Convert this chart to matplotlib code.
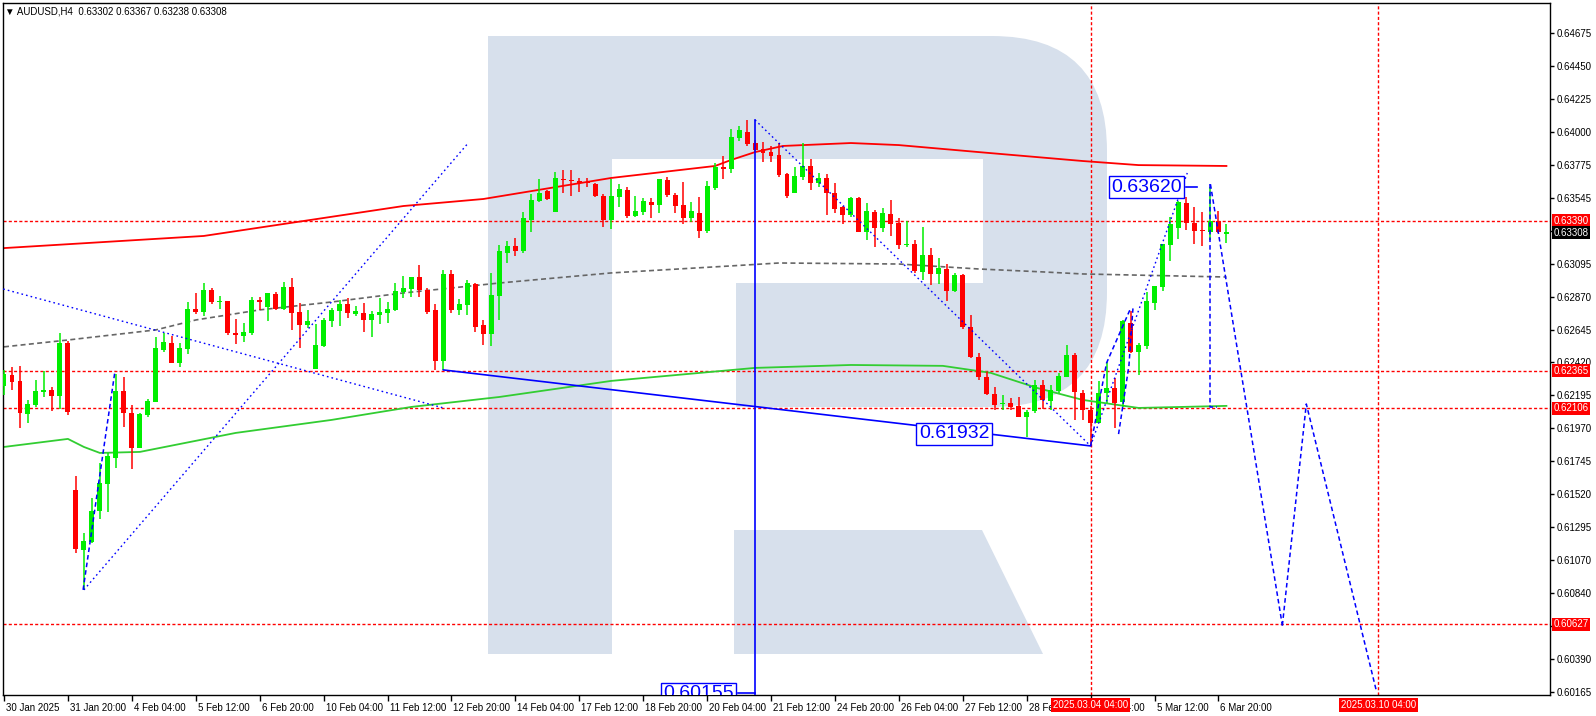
import matplotlib
matplotlib.use("Agg")
import matplotlib.pyplot as plt
import matplotlib.transforms as mtransforms
from matplotlib.patches import Rectangle, FancyBboxPatch, Polygon
import numpy as np

# ---------------- data ----------------
title_text = "\u25BC AUDUSD,H4  0.63302 0.63367 0.63238 0.63308"

opens = [0.62260, 0.62335, 0.62294, 0.62068, 0.62130, 0.62218, 0.62232, 0.62191, 0.62553, 0.61548,
         0.61138, 0.61192, 0.61404, 0.61589, 0.61767, 0.62225, 0.62074, 0.61836, 0.62061, 0.62150,
         0.62506, 0.62553, 0.62417, 0.62513, 0.62787, 0.62766, 0.62916, 0.62834, 0.62841, 0.62622,
         0.62602, 0.62622, 0.62848, 0.62800, 0.62889, 0.62787, 0.62937, 0.62766, 0.62677, 0.62376,
         0.62533, 0.62704, 0.62773, 0.62821, 0.62752, 0.62759, 0.62711, 0.62745, 0.62759, 0.62780,
         0.62903, 0.62923, 0.63005, 0.62916, 0.62780, 0.62431, 0.63026, 0.62780, 0.62814, 0.62957,
         0.62677, 0.62615, 0.62875, 0.63169, 0.63217, 0.63183, 0.63395, 0.63526, 0.63594, 0.63450,
         0.63676, 0.63669, 0.63662, 0.63656, 0.63642, 0.63560, 0.63395, 0.63553, 0.63601, 0.63423,
         0.63450, 0.63519, 0.63498, 0.63669, 0.63567, 0.63498, 0.63409, 0.63443, 0.63320, 0.63615,
         0.63758, 0.63744, 0.63956, 0.63997, 0.63922, 0.63881, 0.63860, 0.63840, 0.63710, 0.63580,
         0.63689, 0.63765, 0.63649, 0.63683, 0.63580, 0.63484, 0.63430, 0.63546, 0.63313, 0.63450,
         0.63341, 0.63436, 0.63375, 0.63224, 0.63231, 0.63040, 0.63156, 0.63026, 0.63060, 0.62909,
         0.63019, 0.62663, 0.62458, 0.62321, 0.62205, 0.62137, 0.62143, 0.62123, 0.62047, 0.62088,
         0.62267, 0.62157, 0.62225, 0.62321, 0.62472, 0.62212, 0.62095, 0.62006, 0.62212, 0.62246,
         0.62150, 0.62690, 0.62492, 0.62533, 0.62827, 0.62937, 0.63224, 0.63341, 0.63512, 0.63375,
         0.63327, 0.63313, 0.63388, 0.63302]
highs = [0.62369, 0.62390, 0.62397, 0.62164, 0.62301, 0.62362, 0.62253, 0.62622, 0.62567, 0.61644,
         0.61254, 0.61493, 0.61733, 0.61801, 0.62342, 0.62321, 0.62130, 0.62074, 0.62170, 0.62595,
         0.62622, 0.62601, 0.62553, 0.62835, 0.62896, 0.62964, 0.62930, 0.62875, 0.62841, 0.62718,
         0.62690, 0.62869, 0.62869, 0.62896, 0.62903, 0.62971, 0.62999, 0.62827, 0.62780, 0.62684,
         0.62725, 0.62793, 0.62848, 0.62862, 0.62807, 0.62827, 0.62773, 0.62862, 0.62834, 0.62964,
         0.63012, 0.63005, 0.63087, 0.62930, 0.62821, 0.63053, 0.63053, 0.62855, 0.62985, 0.62964,
         0.62711, 0.63033, 0.63224, 0.63251, 0.63272, 0.63450, 0.63573, 0.63676, 0.63601, 0.63724,
         0.63737, 0.63737, 0.63683, 0.63683, 0.63649, 0.63573, 0.63676, 0.63642, 0.63621, 0.63560,
         0.63546, 0.63546, 0.63676, 0.63690, 0.63580, 0.63656, 0.63519, 0.63553, 0.63662, 0.63785,
         0.63833, 0.64018, 0.64038, 0.64080, 0.63943, 0.63929, 0.63902, 0.63922, 0.63717, 0.63758,
         0.63922, 0.63812, 0.63717, 0.63710, 0.63649, 0.63491, 0.63553, 0.63553, 0.63512, 0.63464,
         0.63477, 0.63532, 0.63409, 0.63388, 0.63258, 0.63347, 0.63204, 0.63136, 0.63094, 0.63033,
         0.63026, 0.62745, 0.62485, 0.62355, 0.62253, 0.62198, 0.62178, 0.62184, 0.62095, 0.62301,
         0.62301, 0.62267, 0.62348, 0.62540, 0.62485, 0.62232, 0.62123, 0.62294, 0.62424, 0.62314,
         0.62711, 0.62773, 0.62553, 0.62903, 0.62944, 0.63231, 0.63416, 0.63526, 0.63553, 0.63484,
         0.63450, 0.63620, 0.63457, 0.63367]
lows = [0.62198, 0.62232, 0.61972, 0.62006, 0.62116, 0.62184, 0.62088, 0.62102, 0.62061, 0.61117,
        0.60864, 0.61185, 0.61349, 0.61397, 0.61699, 0.61979, 0.61692, 0.61836, 0.62047, 0.62150,
        0.62492, 0.62417, 0.62390, 0.62479, 0.62752, 0.62739, 0.62821, 0.62787, 0.62609, 0.62547,
        0.62560, 0.62609, 0.62780, 0.62704, 0.62780, 0.62780, 0.62643, 0.62520, 0.62657, 0.62376,
        0.62527, 0.62663, 0.62670, 0.62725, 0.62739, 0.62629, 0.62595, 0.62684, 0.62690, 0.62773,
        0.62862, 0.62869, 0.62869, 0.62752, 0.62369, 0.62369, 0.62759, 0.62745, 0.62745, 0.62629,
        0.62540, 0.62533, 0.62711, 0.63101, 0.63149, 0.63169, 0.63313, 0.63519, 0.63532, 0.63450,
        0.63580, 0.63560, 0.63587, 0.63621, 0.63553, 0.63347, 0.63334, 0.63484, 0.63409, 0.63416,
        0.63430, 0.63409, 0.63443, 0.63553, 0.63443, 0.63368, 0.63382, 0.63272, 0.63306, 0.63601,
        0.63676, 0.63717, 0.63936, 0.63902, 0.63861, 0.63792, 0.63792, 0.63689, 0.63546, 0.63580,
        0.63669, 0.63601, 0.63621, 0.63430, 0.63443, 0.63368, 0.63416, 0.63313, 0.63258, 0.63210,
        0.63313, 0.63286, 0.63197, 0.63210, 0.63033, 0.62985, 0.62951, 0.62957, 0.62841, 0.62903,
        0.62650, 0.62451, 0.62301, 0.62198, 0.62095, 0.62095, 0.62095, 0.62047, 0.61911, 0.62074,
        0.62102, 0.62095, 0.62212, 0.62321, 0.62027, 0.62027, 0.61849, 0.62006, 0.62143, 0.61972,
        0.62116, 0.62485, 0.62335, 0.62513, 0.62780, 0.62910, 0.63115, 0.63265, 0.63327, 0.63231,
        0.63217, 0.63258, 0.63306, 0.63238]
closes = [0.62342, 0.62287, 0.62074, 0.62137, 0.62225, 0.62232, 0.62191, 0.62553, 0.62081, 0.61144,
          0.61199, 0.61404, 0.61596, 0.61781, 0.62225, 0.62074, 0.61836, 0.62068, 0.62157, 0.62520,
          0.62560, 0.62417, 0.62520, 0.62787, 0.62766, 0.62916, 0.62834, 0.62841, 0.62622, 0.62609,
          0.62629, 0.62848, 0.62834, 0.62896, 0.62787, 0.62937, 0.62759, 0.62677, 0.62704, 0.62540,
          0.62711, 0.62780, 0.62821, 0.62759, 0.62773, 0.62711, 0.62752, 0.62766, 0.62787, 0.62909,
          0.62930, 0.63005, 0.62916, 0.62766, 0.62431, 0.63026, 0.62780, 0.62821, 0.62964, 0.62663,
          0.62615, 0.62882, 0.63183, 0.63217, 0.63183, 0.63409, 0.63532, 0.63580, 0.63539, 0.63683,
          0.63669, 0.63662, 0.63649, 0.63649, 0.63560, 0.63395, 0.63560, 0.63608, 0.63423, 0.63457,
          0.63525, 0.63498, 0.63676, 0.63567, 0.63491, 0.63409, 0.63457, 0.63320, 0.63628, 0.63758,
          0.63744, 0.63963, 0.64011, 0.63915, 0.63874, 0.63853, 0.63833, 0.63703, 0.63560, 0.63696,
          0.63765, 0.63649, 0.63683, 0.63580, 0.63471, 0.63430, 0.63546, 0.63313, 0.63457, 0.63341,
          0.63443, 0.63368, 0.63224, 0.63231, 0.63046, 0.63156, 0.63026, 0.63067, 0.62909, 0.63019,
          0.62663, 0.62458, 0.62321, 0.62205, 0.62130, 0.62143, 0.62116, 0.62047, 0.62081, 0.62267,
          0.62164, 0.62232, 0.62328, 0.62472, 0.62218, 0.62095, 0.62006, 0.62212, 0.62246, 0.62143,
          0.62704, 0.62492, 0.62540, 0.62841, 0.62944, 0.63231, 0.63368, 0.63519, 0.63375, 0.63320,
          0.63320, 0.63388, 0.63313, 0.63308]

# moving averages (bar index, price) knots
ma_red_idx = [0, 25, 50, 60, 76, 89, 91, 94, 97.5, 106, 112, 122, 135, 142, 153]
ma_red = [0.63203, 0.63286, 0.63491, 0.63539, 0.63683, 0.63765, 0.63806, 0.63860, 0.63902,
          0.63922, 0.63908, 0.63860, 0.63799, 0.63771, 0.63765]
ma_gray_idx = [0, 8, 19, 24, 32, 41, 50, 62, 76, 91, 97, 112, 122, 130, 135, 153]
ma_gray = [0.62527, 0.62574, 0.62643, 0.62711, 0.62780, 0.62834, 0.62896, 0.62964, 0.63033,
           0.63081, 0.63101, 0.63094, 0.63060, 0.63040, 0.63026, 0.63005]
ma_green_idx = [0, 8, 10, 12, 17, 29, 41, 51, 62, 76, 94, 106, 117.5, 123.5, 129.3, 135, 142, 153]
ma_green = [0.61842, 0.61897, 0.61842, 0.61801, 0.61808, 0.61938, 0.62027, 0.62116, 0.62184,
            0.62294, 0.62383, 0.62403, 0.62397, 0.62349, 0.62246, 0.62164, 0.62109, 0.62123]

xtick_labels = ["30 Jan 2025", "31 Jan 20:00", "4 Feb 04:00", "5 Feb 12:00", "6 Feb 20:00",
                "10 Feb 04:00", "11 Feb 12:00", "12 Feb 20:00", "14 Feb 04:00", "17 Feb 12:00",
                "18 Feb 20:00", "20 Feb 04:00", "21 Feb 12:00", "24 Feb 20:00", "26 Feb 04:00",
                "27 Feb 12:00", "28 Feb 20:00", "4 Mar 04:00", "5 Mar 12:00", "6 Mar 20:00"]
bars_per_label = 8
ytick_values = [0.64675, 0.64450, 0.64225, 0.64000, 0.63775, 0.63545, 0.63320,
                0.63095, 0.62870, 0.62645, 0.62420, 0.62195, 0.61970, 0.61745,
                0.61520, 0.61295, 0.61070, 0.60840, 0.60615, 0.60390, 0.60165]
# labels hidden behind the price boxes in the reference are left blank
ytick_labels = ["0.64675", "0.64450", "0.64225", "0.64000", "0.63775", "0.63545", "",
                "0.63095", "0.62870", "0.62645", "0.62420", "0.62195", "0.61970", "0.61745",
                "0.61520", "0.61295", "0.61070", "0.60840", "", "0.60390", "0.60165"]

level_prices = [0.63390, 0.62365, 0.62106, 0.60627]
current_price = 0.63308
time_marks = [136, 172]
time_mark_labels = ["2025.03.04 04:00", "2025.03.10 04:00"]

# drawn analysis objects: (bar index, price)
dotted_lines = [
    [(-0.1, 0.62923), (55, 0.62109)],
    [(10, 0.60864), (58.1, 0.63922)],
    [(94, 0.64080), (136, 0.61849)],
    [(136, 0.61849), (148.1, 0.63717)],
]
dashed_lines = [
    [(9.9, 0.60864), (13.9, 0.62365)],
    [(136, 0.61849), (138, 0.62417), (141, 0.62790)],
    [(139.5, 0.61930), (140.8, 0.62400), (141.3, 0.62790)],
    [(151, 0.63640), (151, 0.62116), (151.8, 0.62116)],
    [(151, 0.63640), (160, 0.60620)],
    [(160, 0.60620), (163, 0.62136), (171.8, 0.60165)],
]
trend_solid = [(55, 0.62369), (136, 0.61849)]
vertical_solid = (94, 0.64080)
price_tags = [(138.6, 0.63620, "0.63620", 148.0, 149.3),
              (114.5, 0.61932, "0.61932", None, None),
              (82.5, 0.60155, "0.60155", 91.9, 94.0)]

# ---------------- figure ----------------
plt.rcParams['font.family'] = ['Liberation Sans', 'DejaVu Sans']
W, H = 1596, 716
fig = plt.figure(figsize=(W / 100, H / 100), dpi=100)
L, R, T, B = 3, 1550, 3, 695
ax = fig.add_axes([L / W, 1 - B / H, (R - L) / W, (B - T) / H])
ax.set_xlim(-0.125, 193.5)
ax.set_ylim(0.601443, 0.648804)

# watermark "R" in pixel coordinates
Tpx = mtransforms.Affine2D().scale(1 / W, -1 / H).translate(0, 1) + fig.transFigure
wm = '#d7e0ec'
ax.add_patch(FancyBboxPatch((488, 36), 1107 - 488, 407 - 36,
                            boxstyle='round,pad=0,rounding_size=115',
                            transform=Tpx, fc=wm, ec='none', zorder=0.1))
ax.add_patch(Rectangle((488, 36), 124, 618, transform=Tpx, fc=wm, ec='none', zorder=0.2))
ax.add_patch(Rectangle((612, 159), 371, 124, transform=Tpx, fc='white', ec='none', zorder=0.3))
ax.add_patch(Rectangle((612, 283), 124, 124, transform=Tpx, fc='white', ec='none', zorder=0.3))
ax.add_patch(Polygon([(734, 530), (982, 530), (1043, 654), (734, 654)], closed=True,
                     transform=Tpx, fc=wm, ec='none', zorder=0.2))

# horizontal levels and time marks
for p in level_prices:
    ax.axhline(p, color='#ff0000', lw=1.0, ls=(0, (2.2, 1.6)), zorder=1.5)
for b in time_marks:
    ax.axvline(b, color='#ff0000', lw=1.0, ls=(0, (2.2, 1.6)), zorder=1.5)

# moving averages
ax.plot(ma_red_idx, ma_red, color='#ff0000', lw=1.3, zorder=2)
ax.plot(ma_gray_idx, ma_gray, color='#666666', lw=1.2, ls=(0, (3, 2)), zorder=2)
ax.plot(ma_green_idx, ma_green, color='#32cd32', lw=1.3, zorder=2)

# candles
o = np.array(opens); h = np.array(highs); lo = np.array(lows); c = np.array(closes)
x = np.arange(len(o))
cols = np.where(c >= o, '#00ee00', '#ff0000')
ax.vlines(x, lo, h, colors=cols, lw=1.1, zorder=3)
body_h = np.maximum(np.abs(c - o), 0.00008)
ax.bar(x, body_h, bottom=np.minimum(o, c), width=0.62, color=cols, linewidth=0, zorder=4)

# analysis objects
blue = '#0000ff'
for seg in dotted_lines:
    xs, ys = zip(*seg)
    ax.plot(xs, ys, color=blue, lw=1.0, ls=(0, (1.2, 2.2)), zorder=5)
for seg in dashed_lines:
    xs, ys = zip(*seg)
    ax.plot(xs, ys, color=blue, lw=1.1, ls=(0, (3, 2)), zorder=5)
xs, ys = zip(*trend_solid)
ax.plot(xs, ys, color=blue, lw=1.2, zorder=5)
ax.plot([vertical_solid[0], vertical_solid[0]], [vertical_solid[1], 0.60], color=blue, lw=1.2, zorder=5)
for xi, p, txt, c0, c1 in price_tags:
    if c0 is not None:
        ax.plot([c0, c1], [p, p], color=blue, lw=1.2, zorder=5)
    ax.text(xi, p, txt, fontsize=14, color=blue, va='center', ha='left', zorder=6, clip_on=True,
            bbox=dict(boxstyle='square,pad=0.12', fc='white', ec=blue, lw=1.0))

# axes styling
for s in ax.spines.values():
    s.set_color('black'); s.set_linewidth(1.0)
ax.yaxis.tick_right()
ax.set_yticks(ytick_values)
ax.set_yticklabels(ytick_labels)
ax.tick_params(axis='y', direction='out', length=3, width=1, labelsize=7, pad=2, colors='black')
ax.set_xticks([bars_per_label * k for k in range(len(xtick_labels))])
ax.set_xticklabels(xtick_labels)
ax.tick_params(axis='x', direction='out', length=4, width=1, labelsize=7, pad=2)
offset = mtransforms.ScaledTranslation(2 / 100, 0, fig.dpi_scale_trans)
for lbl in ax.get_xticklabels():
    lbl.set_ha('left')
    lbl.set_transform(lbl.get_transform() + offset)

# right-axis price boxes
ytr = mtransforms.blended_transform_factory(ax.transAxes, ax.transData)
for p in level_prices:
    ax.text(1.0022, p, f"{p:.5f}", transform=ytr, fontsize=7, color='white', va='center', ha='left',
            zorder=20, clip_on=False,
            bbox=dict(boxstyle='square,pad=0.18', fc='#ff0000', ec='none'))
ax.text(1.0022, current_price, f"{current_price:.5f}", transform=ytr, fontsize=7, color='white',
        va='center', ha='left', zorder=20, clip_on=False,
        bbox=dict(boxstyle='square,pad=0.18', fc='black', ec='none'))

# time boxes on x axis
xtr = mtransforms.blended_transform_factory(ax.transData, ax.transAxes)
for b, t in zip(time_marks, time_mark_labels):
    ax.text(b, -0.0075, t, transform=xtr, fontsize=7, color='white', va='top', ha='center',
            zorder=20, clip_on=False,
            bbox=dict(boxstyle='square,pad=0.2', fc='#ff0000', ec='none'))

fig.text(5 / W, 1 - 11 / H, title_text, fontsize=7, va='center', ha='left', color='black')

fig.savefig("out.png", dpi=100, facecolor='white')
